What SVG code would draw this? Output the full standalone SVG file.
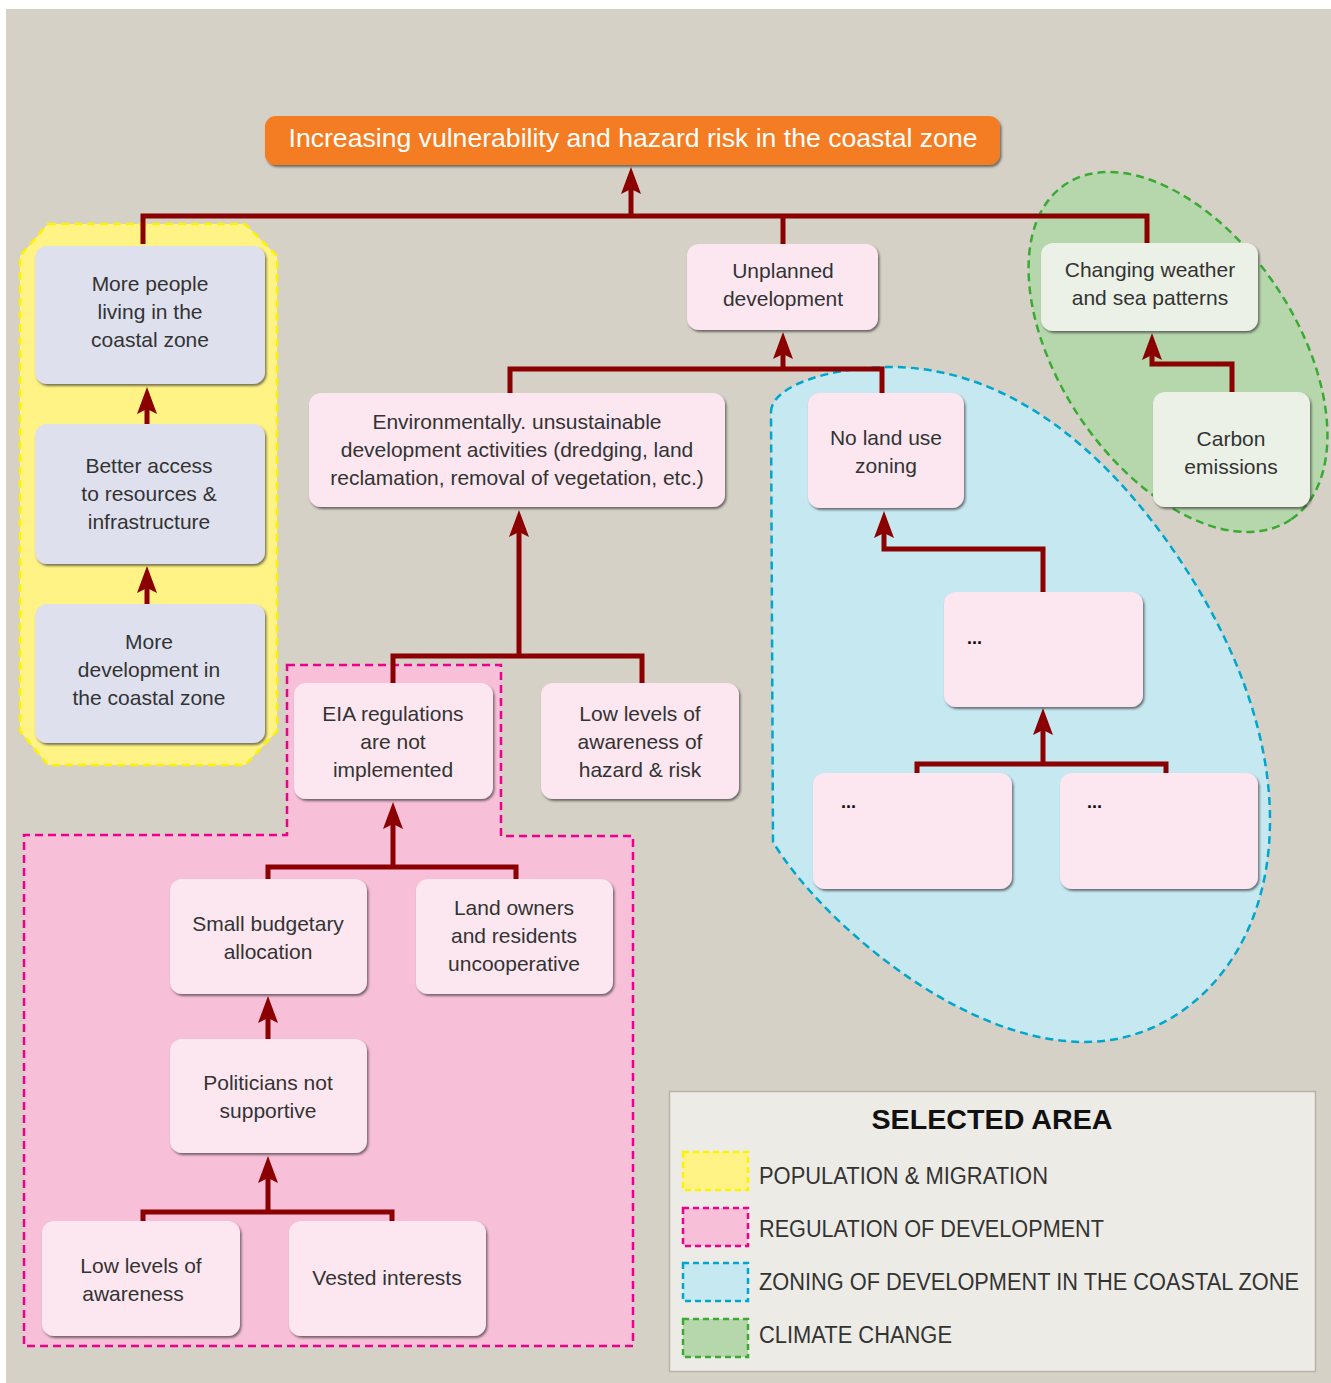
<svg xmlns="http://www.w3.org/2000/svg" width="1331" height="1383" viewBox="0 0 1331 1383">
<defs>
<style>
.t{font-family:"Liberation Sans",Arial,sans-serif;font-size:21px;fill:#333;text-anchor:middle}
.dots{font-family:"Liberation Sans",Arial,sans-serif;font-size:18px;font-weight:bold;fill:#111}
.pk{fill:#FCE7F0}
.lv{fill:#DFE0EE}
.gw{fill:#EBF1E6}
.c{fill:none;stroke:#8B0000;stroke-width:5;stroke-linejoin:miter;stroke-linecap:butt}
.ca{fill:none;stroke:#8B0000;stroke-width:5;marker-end:url(#ah)}
.lg{font-family:"Liberation Sans",Arial,sans-serif;font-size:23px;fill:#333}
</style>
<filter id="sh" x="-5%" y="-5%" width="115%" height="120%">
<feDropShadow dx="1.5" dy="2" stdDeviation="0.8" flood-color="#333" flood-opacity="0.65"/>
</filter>
<marker id="ah" markerUnits="userSpaceOnUse" viewBox="0 0 27 20" refX="15" refY="10" markerWidth="27" markerHeight="20" orient="auto">
<path d="M27,10 L0,0 L5,10 L0,20 Z" fill="#8B0000"/>
</marker>
</defs>
<rect x="0" y="0" width="1331" height="1383" fill="#ffffff"/>
<rect x="6" y="9" width="1325" height="1374" fill="#D5D1C6"/>

<g id="regions">
<ellipse id="region-climate" cx="1178" cy="352" rx="202" ry="118" transform="rotate(56 1178 352)" fill="#B6D7AC" stroke="#3AAA35" stroke-width="2.5" stroke-dasharray="8 5"/>
<path id="region-zoning" d="M771,412 C771,386 830,367 890,367 C1000,367 1100,440 1180,560 C1240,650 1270,740 1270,820 C1270,960 1180,1042 1085,1042 C960,1042 820,920 773,842 Z" fill="#C6E8F1" stroke="#00A6CE" stroke-width="2.5" stroke-dasharray="8 5"/>
<polygon id="region-population" points="48,224 245,224 277,256 277,731 245,765 48,765 20,731 20,256" fill="#FFF385" stroke="#FFF200" stroke-width="2.5" stroke-dasharray="8 5"/>
<polygon id="region-regulation" points="287,665 501,665 501,836 633,836 633,1346 24,1346 24,835 287,835" fill="#F7BFD8" stroke="#EC008C" stroke-width="2.5" stroke-dasharray="8 5"/>
</g>

<g id="connectors">
<path class="c" d="M143,244 V216 H1147 V244 M783,216 V244"/>
<path class="ca" d="M631,216 V179"/>
<path class="ca" d="M147,424 V399"/>
<path class="ca" d="M147,604 V578"/>
<path class="c" d="M510,393 V369 H882 V393"/>
<path class="ca" d="M783,369 V344"/>
<path class="c" d="M393,683 V656 H642 V683"/>
<path class="ca" d="M519,656 V522"/>
<path class="c" d="M268,879 V867 H516 V879"/>
<path class="ca" d="M393,867 V814"/>
<path class="ca" d="M268,1039 V1008"/>
<path class="c" d="M143,1221 V1212 H392 V1221"/>
<path class="ca" d="M268,1212 V1168"/>
<path class="ca" d="M1043,592 V549 H884 V523"/>
<path class="c" d="M917,773 V764 H1166 V773"/>
<path class="ca" d="M1043,764 V720"/>
<path class="ca" d="M1232,392 V364 H1152 V345"/>
</g>

<g id="n-top">
<rect x="265" y="116" width="735" height="49" rx="11" fill="#F47B20" filter="url(#sh)"/>
<text x="633" y="147" font-family="Liberation Sans, Arial, sans-serif" font-size="26" fill="#ffffff" text-anchor="middle" textLength="689" lengthAdjust="spacingAndGlyphs">Increasing vulnerability and hazard risk in the coastal zone</text>
</g>

<g id="n-more-people">
<rect class="lv" x="35" y="246" width="230" height="138" rx="12" filter="url(#sh)"/>
<text class="t" x="150" y="291">More people</text>
<text class="t" x="150" y="319">living in the</text>
<text class="t" x="150" y="347">coastal zone</text>
</g>
<g id="n-better-access">
<rect class="lv" x="35" y="424" width="230" height="140" rx="12" filter="url(#sh)"/>
<text class="t" x="149" y="473">Better access</text>
<text class="t" x="149" y="501">to resources &amp;</text>
<text class="t" x="149" y="529">infrastructure</text>
</g>
<g id="n-more-development">
<rect class="lv" x="35" y="604" width="230" height="139" rx="12" filter="url(#sh)"/>
<text class="t" x="149" y="649">More</text>
<text class="t" x="149" y="677">development in</text>
<text class="t" x="149" y="705">the coastal zone</text>
</g>

<g id="n-unplanned">
<rect class="pk" x="687" y="244" width="191" height="86" rx="12" filter="url(#sh)"/>
<text class="t" x="783" y="278">Unplanned</text>
<text class="t" x="783" y="306">development</text>
</g>
<g id="n-changing-weather">
<rect class="gw" x="1041" y="243" width="217" height="88" rx="12" filter="url(#sh)"/>
<text class="t" x="1150" y="277">Changing weather</text>
<text class="t" x="1150" y="305">and sea patterns</text>
</g>
<g id="n-carbon">
<rect class="gw" x="1153" y="392" width="157" height="115" rx="12" filter="url(#sh)"/>
<text class="t" x="1231" y="446">Carbon</text>
<text class="t" x="1231" y="474">emissions</text>
</g>
<g id="n-environmentally">
<rect class="pk" x="309" y="393" width="416" height="114" rx="12" filter="url(#sh)"/>
<text class="t" x="517" y="429">Environmentally. unsustainable</text>
<text class="t" x="517" y="457">development activities (dredging, land</text>
<text class="t" x="517" y="485">reclamation, removal of vegetation, etc.)</text>
</g>
<g id="n-no-land-use">
<rect class="pk" x="808" y="393" width="156" height="115" rx="12" filter="url(#sh)"/>
<text class="t" x="886" y="445">No land use</text>
<text class="t" x="886" y="473">zoning</text>
</g>
<g id="n-dots1">
<rect class="pk" x="944" y="592" width="199" height="115" rx="12" filter="url(#sh)"/>
<text class="dots" x="967" y="644">...</text>
</g>
<g id="n-dots2">
<rect class="pk" x="813" y="773" width="199" height="116" rx="12" filter="url(#sh)"/>
<text class="dots" x="841" y="808">...</text>
</g>
<g id="n-dots3">
<rect class="pk" x="1060" y="773" width="198" height="116" rx="12" filter="url(#sh)"/>
<text class="dots" x="1087" y="808">...</text>
</g>
<g id="n-eia">
<rect class="pk" x="294" y="683" width="199" height="116" rx="12" filter="url(#sh)"/>
<text class="t" x="393" y="721">EIA regulations</text>
<text class="t" x="393" y="749">are not</text>
<text class="t" x="393" y="777">implemented</text>
</g>
<g id="n-low-hazard">
<rect class="pk" x="541" y="683" width="198" height="116" rx="12" filter="url(#sh)"/>
<text class="t" x="640" y="721">Low levels of</text>
<text class="t" x="640" y="749">awareness of</text>
<text class="t" x="640" y="777">hazard &amp; risk</text>
</g>
<g id="n-small-budget">
<rect class="pk" x="170" y="879" width="197" height="115" rx="12" filter="url(#sh)"/>
<text class="t" x="268" y="931">Small budgetary</text>
<text class="t" x="268" y="959">allocation</text>
</g>
<g id="n-land-owners">
<rect class="pk" x="416" y="879" width="197" height="115" rx="12" filter="url(#sh)"/>
<text class="t" x="514" y="915">Land owners</text>
<text class="t" x="514" y="943">and residents</text>
<text class="t" x="514" y="971">uncooperative</text>
</g>
<g id="n-politicians">
<rect class="pk" x="170" y="1039" width="197" height="114" rx="12" filter="url(#sh)"/>
<text class="t" x="268" y="1090">Politicians not</text>
<text class="t" x="268" y="1118">supportive</text>
</g>
<g id="n-low-awareness">
<rect class="pk" x="42" y="1221" width="198" height="115" rx="12" filter="url(#sh)"/>
<text class="t" x="141" y="1273">Low levels of</text>
<text class="t" x="133" y="1301">awareness</text>
</g>
<g id="n-vested">
<rect class="pk" x="289" y="1221" width="197" height="115" rx="12" filter="url(#sh)"/>
<text class="t" x="387" y="1285">Vested interests</text>
</g>

<g id="legend">
<rect x="669.5" y="1091.5" width="646" height="280" fill="#EDEBE6" stroke="#B8B2A6" stroke-width="1.5"/>
<text x="992" y="1129" font-family="Liberation Sans, Arial, sans-serif" font-size="28" font-weight="bold" fill="#111" text-anchor="middle" textLength="241" lengthAdjust="spacingAndGlyphs">SELECTED AREA</text>
<rect x="683" y="1152" width="65" height="38" fill="#FFF385" stroke="#FFF200" stroke-width="2.5" stroke-dasharray="6 4"/>
<rect x="683" y="1208" width="65" height="38" fill="#F7BFD8" stroke="#EC008C" stroke-width="2.5" stroke-dasharray="6 4"/>
<rect x="683" y="1263" width="65" height="38" fill="#C6E8F1" stroke="#00A6CE" stroke-width="2.5" stroke-dasharray="6 4"/>
<rect x="683" y="1319" width="65" height="38" fill="#B6D7AC" stroke="#3AAA35" stroke-width="2.5" stroke-dasharray="6 4"/>
<text class="lg" x="759" y="1184" textLength="289" lengthAdjust="spacingAndGlyphs">POPULATION &amp; MIGRATION</text>
<text class="lg" x="759" y="1237" textLength="345" lengthAdjust="spacingAndGlyphs">REGULATION OF DEVELOPMENT</text>
<text class="lg" x="759" y="1290" textLength="540" lengthAdjust="spacingAndGlyphs">ZONING OF DEVELOPMENT IN THE COASTAL ZONE</text>
<text class="lg" x="759" y="1343" textLength="193" lengthAdjust="spacingAndGlyphs">CLIMATE CHANGE</text>
</g>
</svg>
